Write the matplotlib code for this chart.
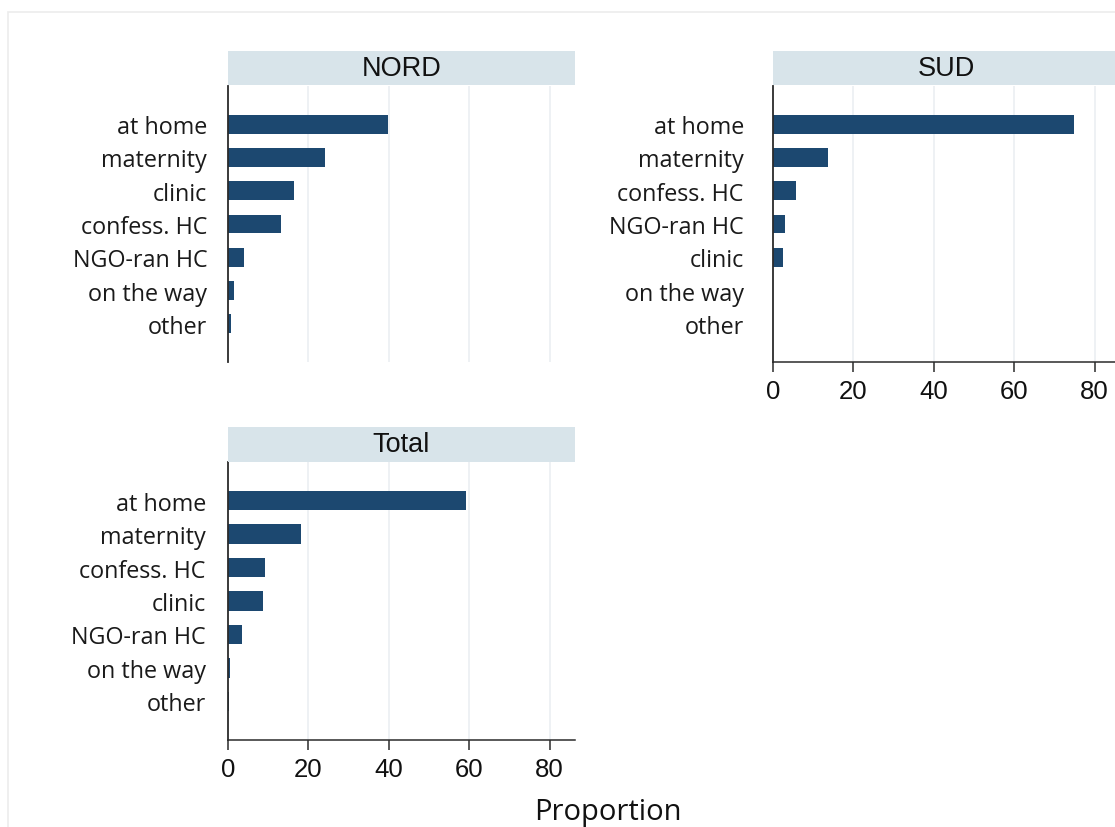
import matplotlib
matplotlib.use("Agg")
import matplotlib.pyplot as plt
from matplotlib.patches import Rectangle

# ---- data ----
nord_labels = ["at home", "maternity", "clinic", "confess. HC", "NGO-ran HC", "on the way", "other"]
nord_values = [39.7, 24.0, 16.5, 13.2, 4.0, 1.6, 0.7]

sud_labels = ["at home", "maternity", "confess. HC", "NGO-ran HC", "clinic", "on the way", "other"]
sud_values = [74.8, 13.6, 5.8, 3.1, 2.4, 0.0, 0.0]

total_labels = ["at home", "maternity", "confess. HC", "clinic", "NGO-ran HC", "on the way", "other"]
total_values = [59.3, 18.1, 9.1, 8.6, 3.6, 0.6, 0.2]

x_ticks = [0, 20, 40, 60, 80]
x_title = "Proportion"
panel_titles = ["NORD", "SUD", "Total"]

# ---- style ----
W, H = 1115, 828
BAR = "#1c4870"
STRIP = "#d8e4ea"
GRID = "#e9edf1"
SPINE = "#2b2b2b"
LABEL_FONT = ["Open Sans", "DejaVu Sans"]
TICK_FONT = ["Liberation Sans", "DejaVu Sans"]

fig = plt.figure(figsize=(W / 100, H / 100), dpi=100)
fig.patch.set_facecolor("white")

# faint outer frame (only top and left edges visible)
fig.add_artist(Rectangle((8 / W, -0.2), 1.2, 1.2 - 13 / H, transform=fig.transFigure,
                         facecolor="none", edgecolor="#ececec", linewidth=1.2))


def px_rect(x0, y0, x1, y1):
    return [x0 / W, 1 - y1 / H, (x1 - x0) / W, (y1 - y0) / H]


def panel(rect, strip_rect, title, labels, values, show_x, label_pad):
    ax = fig.add_axes(px_rect(*rect))
    pos = list(range(len(labels)))
    ax.barh(pos, values, height=0.57, color=BAR, zorder=3)
    ax.set_ylim(len(labels) - 1 + 1.15, -1.15)
    ax.set_xlim(0, 86.3)
    ax.set_yticks(pos)
    ax.set_yticklabels(labels, family=LABEL_FONT, fontsize=16.8, color="#1a1a1a")
    ax.tick_params(axis="y", length=0, pad=label_pad)
    for v in x_ticks[1:]:
        ax.axvline(v, color=GRID, linewidth=1.1, zorder=1)
    ax.set_xticks(x_ticks)
    if show_x:
        ax.set_xticklabels([str(t) for t in x_ticks], family=TICK_FONT, fontsize=18.5, color="#111111")
        ax.tick_params(axis="x", length=7, width=1.1, color=SPINE, pad=5)
        ax.spines["bottom"].set_color(SPINE)
        ax.spines["bottom"].set_linewidth(1.1)
    else:
        ax.set_xticklabels([])
        ax.tick_params(axis="x", length=0)
        ax.spines["bottom"].set_visible(False)
    ax.spines["top"].set_visible(False)
    ax.spines["right"].set_visible(False)
    ax.spines["left"].set_color(SPINE)
    ax.spines["left"].set_linewidth(1.3)
    ax.spines["left"].set_zorder(4)

    sx = fig.add_axes(px_rect(*strip_rect))
    sx.set_facecolor(STRIP)
    sx.set_xticks([])
    sx.set_yticks([])
    for s in sx.spines.values():
        s.set_visible(False)
    sx.text(0.5, 0.5, title, ha="center", va="center", family=TICK_FONT,
            fontsize=19.5, color="#111111", transform=sx.transAxes)
    return ax


panel((228, 87, 575, 363), (228, 52, 575, 86), panel_titles[0], nord_labels, nord_values, False, 15)
panel((773, 87, 1120, 363), (773, 52, 1120, 86), panel_titles[1], sud_labels, sud_values, True, 21)
panel((228, 463, 575, 741), (228, 428, 575, 463), panel_titles[2], total_labels, total_values, True, 16)

fig.text(608 / W, 8 / H, x_title, ha="center", va="baseline", family=LABEL_FONT,
         fontsize=21, color="#111111")

fig.savefig("out.png", dpi=100, facecolor="white")
